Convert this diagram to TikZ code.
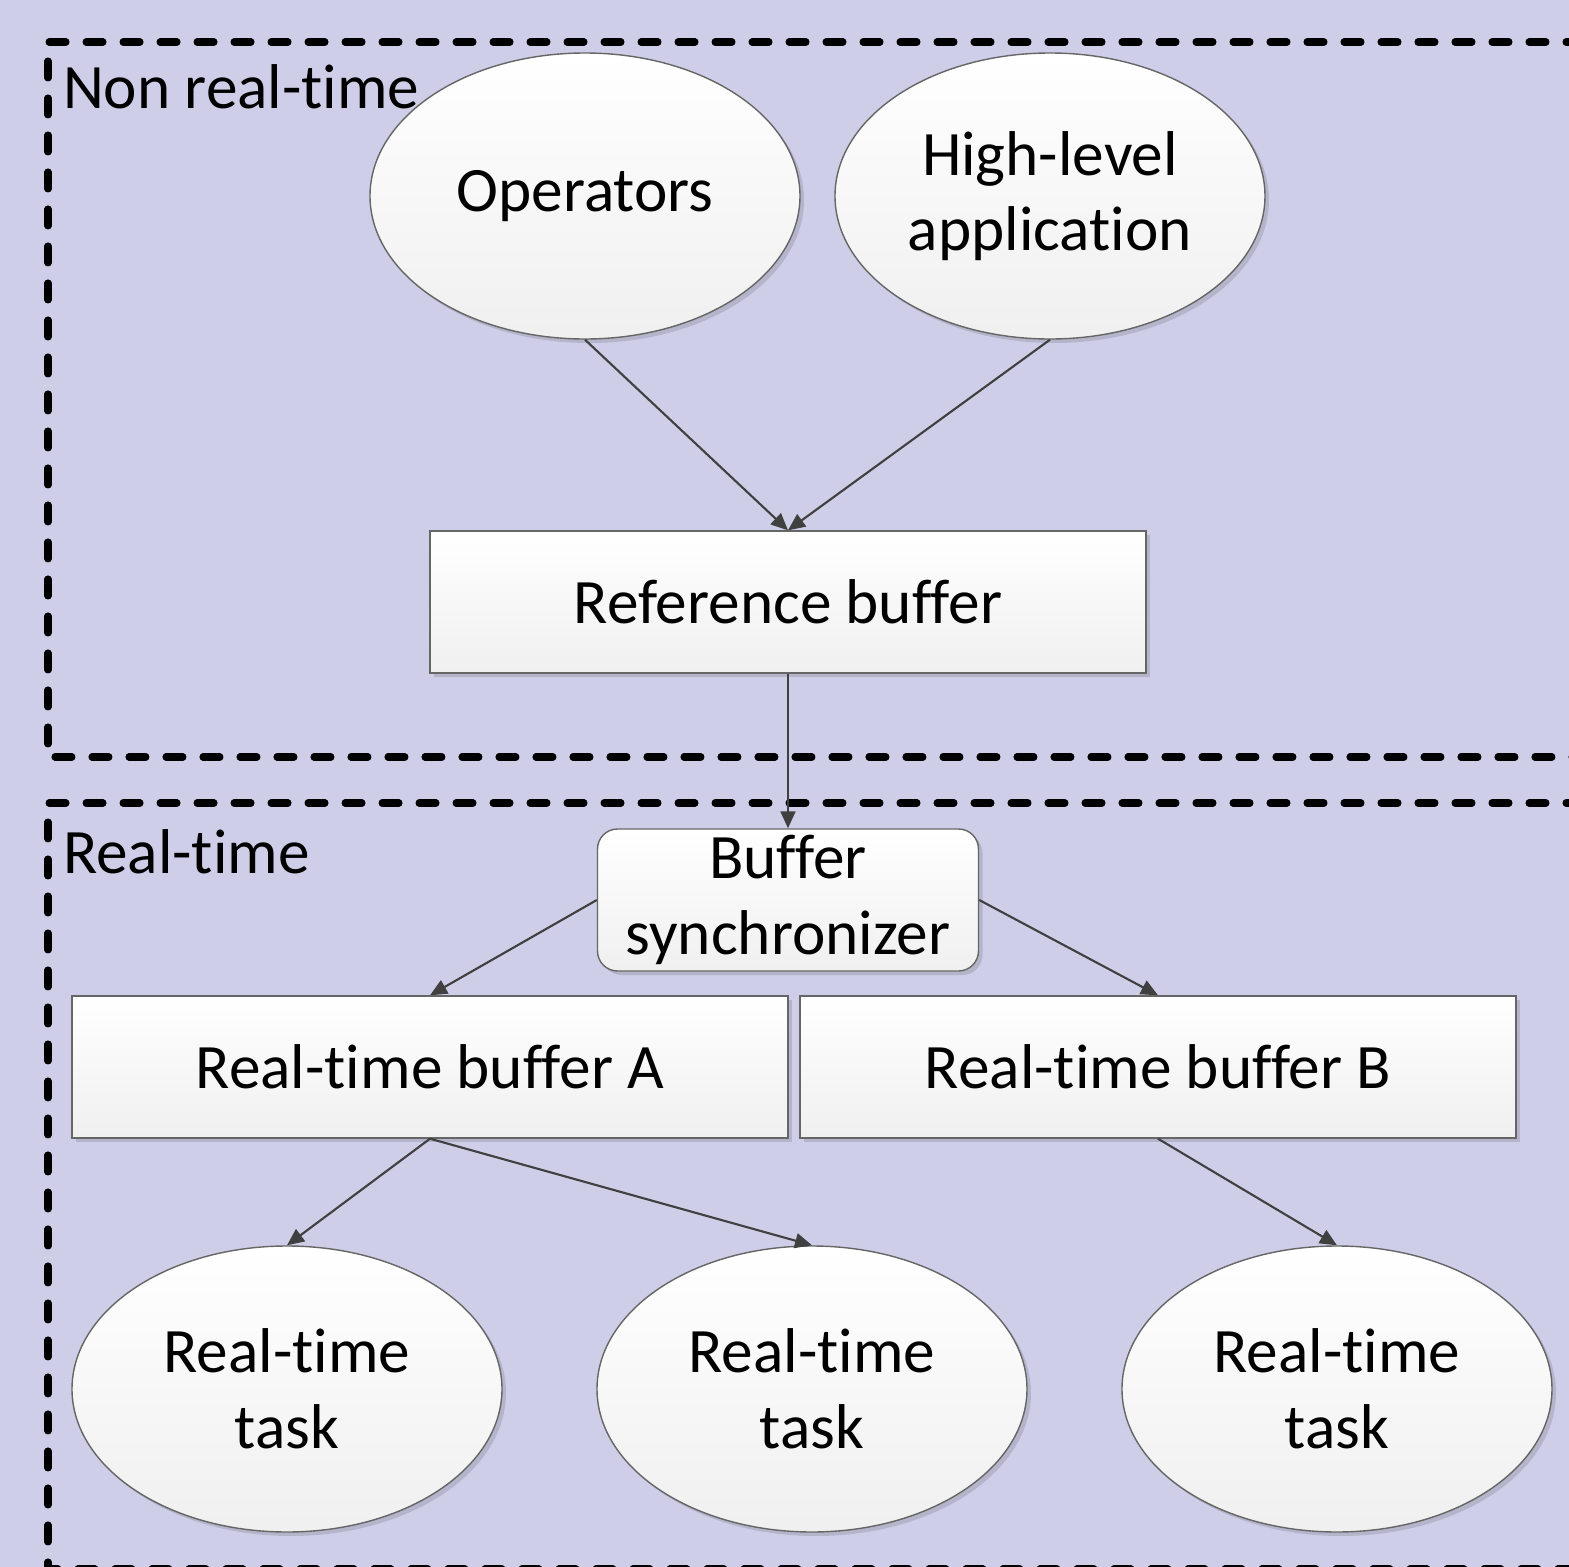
\documentclass[tikz,border=0pt]{standalone}
\usepackage{fontspec}
\setmainfont{Carlito}[Ligatures=NoCommon]
\usepackage{tikz}
\usetikzlibrary{%
  arrows.meta,%
  shapes,%
  shadows,%
  positioning,% wg. " of "
  calc
}
\definecolor{lavbg}{RGB}{206,206,232}
\definecolor{arrgray}{RGB}{64,64,64}

\begin{document}
\begin{tikzpicture}[
  line width=0.6pt, font=\fontsize{18}{21.5}\selectfont, >={Triangle[length=1.7mm,width=1.5mm]},
  box/.style={rectangle, minimum height=1.42cm, minimum width=7.16cm, draw=black!60, line width=0.4pt, top color=white, bottom color=black!6, drop shadow={shadow xshift=0.4mm, shadow yshift=-0.4mm, fill=black, opacity=0.12}},
  syncbox/.style={box, rounded corners=0.2cm, minimum width=3.81cm, align=center, inner sep=0pt},
  blob/.style={ellipse, minimum width=4.3cm, minimum height=2.86cm, inner sep=0pt, align=center, draw=black!60, line width=0.4pt, top color=white, bottom color=black!6, drop shadow={shadow xshift=0.4mm, shadow yshift=-0.4mm, fill=black, opacity=0.12}},
  zone/.style={dash pattern=on 0.17cm off 0.2cm, line cap=round, line width=2pt, draw=black},
  link/.style={->, draw=arrgray, fill=arrgray}
]

\path[use as bounding box, clip] (0,0) rectangle (15.69,-15.67);
\fill[lavbg] (0,0) rectangle (15.69,-15.67);

% the two zones
\draw[zone] (16.2,-0.42) -- (0.48,-0.42) -- (0.48,-7.57) -- (16.2,-7.57);
\draw[zone] (16.2,-8.03) -- (0.48,-8.03) -- (0.48,-15.69) -- (16.2,-15.69);
\node[anchor=base west, inner sep=0pt] (nrt) at (0.62,-1.08) {Non real-time};
\node[anchor=base west, inner sep=0pt] (rt) at (0.62,-8.73) {Real-time};

\node[blob] (op) at (5.85,-1.96) {Operators};
\node[blob] (hl) at (10.50,-1.96) {High-level\\application};
\node[box] (ref) at (7.88,-6.02) {Reference buffer};
\node[syncbox] (sync) at (7.88,-9.00) {Buffer\\synchronizer};
\node[box] (rtA) at (4.30,-10.67) {Real-time buffer A};
\node[box] (rtB) at (11.58,-10.67) {Real-time buffer B};

\foreach \x/\xpos in {1/2.87,2/8.12,3/13.37} {
  \node[blob] (task\x) at (\xpos,-13.89) {Real-time\\task};
}

\draw[link] (op.south) -- (ref.north);
\draw[link] (hl.south) -- (ref.north);
\draw[link] (ref.south) -- (sync.north);
\draw[link] (sync.west) -- (rtA.north);
\draw[link] (sync.east) -- (rtB.north);
\draw[link] (rtA.south) -- (task1.north);
\draw[link] (rtA.south) -- (task2.north);
\draw[link] (rtB.south) -- (task3.north);

\end{tikzpicture}
\end{document}
